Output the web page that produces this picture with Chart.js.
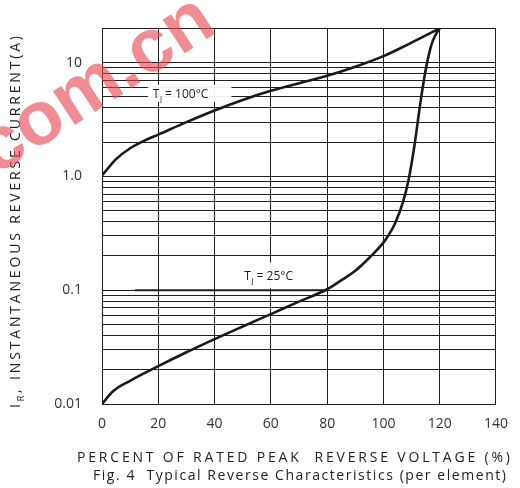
<!DOCTYPE html>
<html>
<head>
<meta charset="utf-8">
<script src="https://cdn.jsdelivr.net/npm/chart.js@4.4.1/dist/chart.umd.min.js"></script>
<style>
html, body { margin: 0; padding: 0; background: #fff; }
#wrap { width: 520px; height: 488px; position: relative; }
</style>
</head>
<body>
<div id="wrap"><canvas id="c" width="520" height="488"></canvas></div>
<script>
// Fig. 4 Typical Reverse Characteristics — log-scale reverse current vs % rated voltage

const xTicks = [0, 20, 40, 60, 80, 100, 120, 140];
const yTickValues = [0.01, 0.1, 1, 10];
const yTickLabels = ['0.01', '0.1', '1.0', '10'];
const yMin = 0.01, yMax = 20;

// Tj = 100°C curve
const x100 = [0, 5, 10, 15, 20, 30, 40, 50, 60, 70, 80, 90, 100, 110, 120];
const y100 = [1.02, 1.42, 1.77, 2.06, 2.33, 3.0, 3.8, 4.7, 5.65, 6.6, 7.66, 9.2, 11.4, 15, 20];

// Tj = 25°C curve
const x25 = [0, 4, 10, 20, 30, 40, 50, 60, 70, 80, 85, 90, 95, 100, 102, 104, 107, 109, 111, 113, 115, 117, 118.5, 120];
const y25 = [0.01, 0.013, 0.016, 0.0215, 0.0285, 0.0372, 0.048, 0.0617, 0.0794, 0.102, 0.122, 0.148, 0.193, 0.262, 0.31, 0.38, 0.6, 0.95, 1.85, 4.2, 8.6, 14.2, 17.5, 20];

// curve labels (data units)
const label100 = { text: ' = 100°C', x0: 16.3, x1: 46, y0: 4.5, y1: 6.4 };
const label25 = { text: ' = 25°C', x0: 48.8, x1: 77, y0: 0.104, y1: 0.175 };

const FONT = '"Open Sans", "DejaVu Sans", sans-serif';

// all log grid values 0.01..10 plus top
const gridValues = [];
for (const d of [0.01, 0.1, 1]) {
    for (let m = 1; m < 10; m++) gridValues.push(+(d * m).toPrecision(3));
}
gridValues.push(10, yMax);

function drawSpaced(ctx, parts, x, y, total) {
    // draws text char by char, spread over 'total' px
    let sum = 0, n = 0;
    for (const p of parts) {
        ctx.font = p.size + 'px ' + FONT;
        for (const ch of p.t) { sum += ctx.measureText(ch).width; n++; }
    }
    const extra = n > 1 ? (total - sum) / (n - 1) : 0;
    let cx = x;
    for (const p of parts) {
        ctx.font = p.size + 'px ' + FONT;
        for (const ch of p.t) {
            ctx.fillText(ch, cx, y + (p.dy || 0));
            cx += ctx.measureText(ch).width + extra;
        }
    }
}

function drawTj(ctx, lab, xs, ys) {
    const l = xs.getPixelForValue(lab.x0), r = xs.getPixelForValue(lab.x1);
    const t = ys.getPixelForValue(lab.y1), b = ys.getPixelForValue(lab.y0);
    ctx.fillStyle = 'rgba(255,255,255,0.93)';
    ctx.fillRect(l, t, r - l, b - t);
    ctx.fillStyle = '#222';
    ctx.textBaseline = 'alphabetic';
    ctx.textAlign = 'left';
    const base = (t + b) / 2 + 4.5;
    let cx = l + 5;
    ctx.font = '12px ' + FONT;
    ctx.fillText('T', cx, base);
    cx += ctx.measureText('T').width + 0.5;
    ctx.font = '8px ' + FONT;
    ctx.fillText('j', cx, base + 3);
    cx += ctx.measureText('j').width;
    ctx.font = '12px ' + FONT;
    ctx.fillText(lab.text, cx, base);
}

const decor = {
    id: 'decor',
    beforeDatasetsDraw(chart) {
        const ctx = chart.ctx, xs = chart.scales.x, ys = chart.scales.y;
        ctx.save();
        drawTj(ctx, label100, xs, ys);
        drawTj(ctx, label25, xs, ys);
        // leader line at 0.1
        ctx.strokeStyle = '#1e1e1e';
        ctx.lineWidth = 2;
        ctx.beginPath();
        ctx.moveTo(xs.getPixelForValue(11.7), ys.getPixelForValue(0.1));
        ctx.lineTo(xs.getPixelForValue(80), ys.getPixelForValue(0.1));
        ctx.stroke();
        ctx.restore();
    },
    afterDraw(chart) {
        const ctx = chart.ctx;
        ctx.save();
        ctx.fillStyle = '#222';
        ctx.textBaseline = 'alphabetic';
        ctx.textAlign = 'left';
        // x title + caption
        drawSpaced(ctx, [{ t: 'PERCENT OF RATED PEAK  REVERSE VOLTAGE (%)', size: 14 }], 77, 462, 433);
        drawSpaced(ctx, [{ t: 'Fig. 4  Typical Reverse Characteristics (per element)', size: 14 }], 93, 480, 413);
        // y title
        ctx.save();
        ctx.translate(20, 408);
        ctx.rotate(-Math.PI / 2);
        drawSpaced(ctx, [{ t: 'I', size: 14 }, { t: 'R', size: 9, dy: 4 }, { t: ', INSTANTANEOUS REVERSE CURRENT(A)', size: 14 }], 0, 0, 372);
        ctx.restore();
        // watermark
        ctx.translate(-4, 176);
        ctx.rotate(-33 * Math.PI / 180);
        ctx.font = 'bold 76px "Liberation Sans", Arial, sans-serif';
        ctx.fillStyle = 'rgba(232,70,80,0.62)';
        ctx.fillText('com.cn', 0, 0);
        ctx.restore();
    }
};

const toPts = (xa, ya) => xa.map((x, i) => ({ x: x, y: ya[i] }));

new Chart(document.getElementById('c'), {
    type: 'line',
    data: {
        datasets: [
            { label: 'Tj = 100°C', data: toPts(x100, y100) },
            { label: 'Tj = 25°C', data: toPts(x25, y25) }
        ]
    },
    options: {
        responsive: false,
        animation: false,
        devicePixelRatio: 1,
        layout: { padding: { top: 8, right: 22, left: 0, bottom: 0 } },
        elements: {
            line: { borderColor: '#1a1a1a', borderWidth: 2.6, cubicInterpolationMode: 'monotone', fill: false },
            point: { radius: 0 }
        },
        plugins: { legend: { display: false }, tooltip: { enabled: false } },
        scales: {
            x: {
                type: 'linear', min: 0, max: 140,
                afterBuildTicks: s => { s.ticks = xTicks.map(v => ({ value: v })); },
                afterFit: s => { s.height = 84; },
                grid: { color: '#1e1e1e', lineWidth: 1, drawTicks: false },
                border: { color: '#1e1e1e', width: 1 },
                ticks: { color: '#333', font: { family: FONT, size: 14 }, padding: 12, autoSkip: false, maxRotation: 0 }
            },
            y: {
                type: 'logarithmic', min: yMin, max: yMax,
                afterBuildTicks: s => { s.ticks = gridValues.map(v => ({ value: v })); },
                afterFit: s => { s.width = 102; },
                grid: { color: '#1e1e1e', lineWidth: 1, drawTicks: false },
                border: { color: '#1e1e1e', width: 1 },
                ticks: {
                    color: '#333', font: { family: FONT, size: 14 }, padding: 20, autoSkip: false,
                    callback: v => {
                        const i = yTickValues.findIndex(t => Math.abs(t - v) < t * 1e-6);
                        return i >= 0 ? yTickLabels[i] : '';
                    }
                }
            }
        }
    },
    plugins: [decor]
});
</script>
</body>
</html>
